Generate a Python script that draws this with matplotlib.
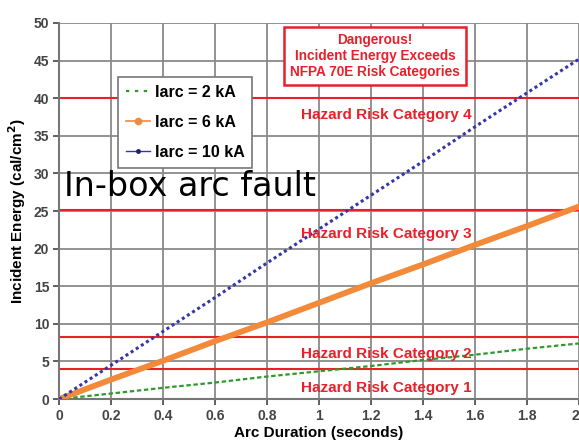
import matplotlib
matplotlib.use("Agg")
from matplotlib import pyplot as plt
from matplotlib.lines import Line2D

# arc duration (s) and incident energy (cal/cm^2)
duration = [0, 0.2, 0.4, 0.6, 0.8, 1.0, 1.2, 1.4, 1.6, 1.8, 2.0]
e_2ka = [0, 0.74, 1.5, 2.2, 3.0, 3.7, 4.4, 5.2, 5.9, 6.7, 7.4]
e_6ka = [0, 2.6, 5.1, 7.7, 10.2, 12.8, 15.4, 17.9, 20.5, 23.0, 25.6]
e_10ka = [0, 4.5, 9.0, 13.5, 18.1, 22.6, 27.1, 31.6, 36.2, 40.7, 45.2]

# NFPA 70E category limits
limits = [4, 8.2, 25.1, 40]
cat_names = ["Hazard Risk Category 1", "Hazard Risk Category 2",
             "Hazard Risk Category 3", "Hazard Risk Category 4"]
cat_y = [1.5, 6.0, 21.9, 37.7]

plt.rcParams['font.family'] = ['Liberation Sans', 'DejaVu Sans']
red = "#e8202a"
green = "#2e9a2e"
orange = "#f28a3a"
blue = "#3636a8"

fig = plt.figure(figsize=(5.79, 4.41), dpi=100)
ax = fig.add_axes([0.102, 0.095, 0.898, 0.853])

for y in limits:
    ax.axhline(y, color=red, lw=1.5, zorder=2)

ax.plot(duration, e_2ka, color=green, ls=(0, (2, 1.2)), lw=1.6, zorder=3)
ax.plot(duration, e_6ka, color=orange, lw=4.2, zorder=3)
ax.plot(duration, e_10ka, color=blue, ls=(0, (1, 1)), lw=2.2, zorder=3)

for name, y in zip(cat_names, cat_y):
    ax.text(1.257, y, name, color=red, fontsize=11, fontweight="bold",
            ha="center", va="center", zorder=4)

ax.text(1.215, 45.6, "Dangerous!\nIncident Energy Exceeds\nNFPA 70E Risk Categories",
        color=red, fontsize=9.8, fontweight="bold", ha="center", va="center",
        linespacing=1.15, zorder=4,
        bbox=dict(boxstyle="square,pad=0.45", fc="white", ec=red, lw=1.8))

ax.text(0.02, 28.2, "In-box arc fault", fontsize=24, family="DejaVu Sans",
        ha="left", va="center", zorder=5)

ax.set_xlim(0, 2)
ax.set_ylim(0, 50)
ax.set_xticks(duration)
ax.set_xticklabels(["0", "0.2", "0.4", "0.6", "0.8", "1", "1.2", "1.4", "1.6", "1.8", "2"])
ax.set_yticks(range(0, 51, 5))
ax.tick_params(labelsize=10, colors="#444444", length=4, width=1.2, pad=3)
for lab in ax.get_xticklabels() + ax.get_yticklabels():
    lab.set_fontweight("bold")
# last x label sits on the figure edge; keep it inside
ax.get_xticklabels()[-1].set_horizontalalignment("right")
ax.grid(True, color="#8a8a8a", lw=1.3, zorder=1)
ax.set_axisbelow(True)
for s in ["top", "right"]:
    ax.spines[s].set_visible(False)
for s in ["left", "bottom"]:
    ax.spines[s].set_color("#777777")
    ax.spines[s].set_linewidth(1.5)

ax.set_xlabel("Arc Duration (seconds)", fontsize=11, fontweight="bold", labelpad=2)
ax.set_ylabel("Incident Energy (cal/cm$^\\mathbf{2}$)", fontsize=11,
              fontweight="bold", labelpad=4)

handles = [
    Line2D([], [], color=green, ls=(0, (1.5, 2.5)), lw=1.6),
    Line2D([], [], color=orange, lw=1.2, marker="o", ms=4.5, mec=orange),
    Line2D([], [], color=blue, lw=1.0, marker="o", ms=2.5, mfc="#202070", mec="#202070"),
]
labels = ["Iarc = 2 kA", "Iarc = 6 kA", "Iarc = 10 kA"]
leg = ax.legend(handles, labels, loc="upper left", bbox_to_anchor=(0.113, 0.857),
                borderaxespad=0, fancybox=False, edgecolor="#777777", framealpha=1,
                prop=dict(weight="bold", size=11.5), labelspacing=0.95,
                handlelength=1.5, handletextpad=0.3, borderpad=0.5)
leg.get_frame().set_linewidth(1.2)
leg.set_zorder(6)

plt.savefig("out.png", dpi=100)
